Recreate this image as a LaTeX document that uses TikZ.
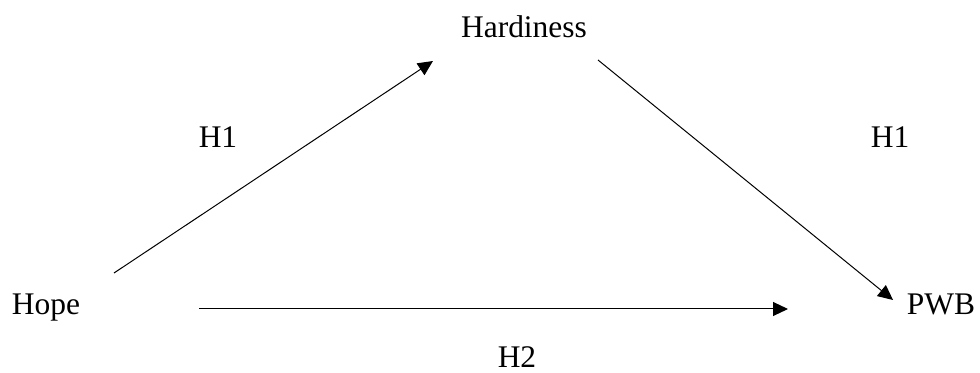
\documentclass[tikz,border=0pt]{standalone}
\usepackage{fontspec}
\setmainfont{Liberation Serif}
\usetikzlibrary{arrows.meta}
\begin{document}
\begin{tikzpicture}[x=0.75pt,y=-0.75pt,
  lbl/.style={anchor=base,inner sep=0pt,font=\fontsize{23.6pt}{28pt}\selectfont},
  conn/.style={line width=0.75pt,-{Triangle[length=11.25pt,width=10.5pt]}}]
\useasboundingbox (0,0) rectangle (980,373);
\node[lbl] (hard) at (524,38) {Hardiness};
\node[lbl] (hope) at (46,315) {Hope};
\node[lbl] (pwb) at (941,315) {PWB};
\node[lbl] (h1a) at (218,148) {H1};
\node[lbl] (h1b) at (890,148) {H1};
\node[lbl] (h2) at (517,368) {H2};
\coordinate (a1) at (114,273);
\coordinate (a2) at (433,61);
\coordinate (b1) at (598,60);
\coordinate (b2) at (893,300);
\coordinate (c1) at (199,309);
\coordinate (c2) at (788,309);
\draw[conn] (a1) -- (a2);
\draw[conn] (b1) -- (b2);
\draw[conn] (c1) -- (c2);
\end{tikzpicture}
\end{document}
